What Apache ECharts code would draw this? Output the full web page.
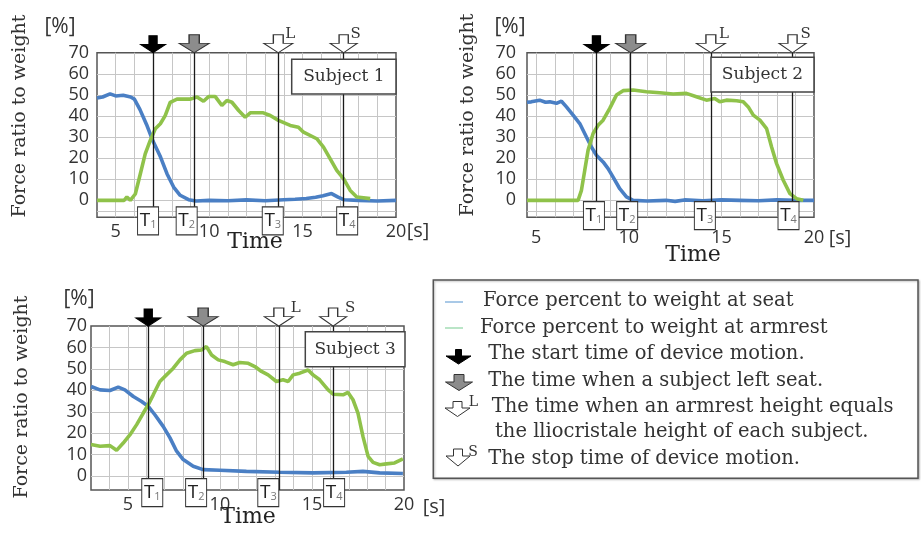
<!DOCTYPE html>
<html><head><meta charset="utf-8">
<script src="https://cdn.jsdelivr.net/npm/echarts@6/dist/echarts.min.js"></script>
<style>html,body{margin:0;padding:0;background:#fff}#c{width:921px;height:536px}</style>
</head><body><div id="c"></div>
<script>
// ---------- data (time [s], force ratio [%]) ----------
const s1Seat = [[4.0,48.5],[4.3,49],[4.7,50.5],[5.0,49.5],[5.4,49.8],[5.8,49],[6.0,48],[6.3,43],[6.65,36],[7.0,28],[7.4,20.5],[7.75,12.5],[8.1,6.3],[8.45,2.4],[8.9,0.3],[9.3,-0.3],[10,0],[11,-0.2],[12,0.2],[13,-0.2],[14,0.3],[14.6,0.5],[15.2,0.9],[15.7,1.5],[16.1,2.2],[16.55,3.2],[16.9,1.5],[17.2,0.3],[18,0],[19,-0.3],[20,0]];
const s1Arm = [[4.0,0],[5.0,0],[5.45,0],[5.6,1.6],[5.78,0],[6.05,3],[6.32,12.6],[6.58,22],[6.85,28.4],[7.12,33.9],[7.39,36.3],[7.65,40.2],[7.92,46.5],[8.28,48],[9.0,48],[9.35,49],[9.7,47],[9.97,49.2],[10.33,49.2],[10.68,45],[10.95,47.3],[11.22,46.5],[11.58,42.6],[11.93,39.4],[12.2,41.5],[12.9,41.5],[13.27,40.2],[13.71,37.9],[14.34,35.5],[14.78,34.7],[15.05,32.3],[15.76,29.2],[16.12,25.2],[16.48,19.7],[16.83,14.2],[17.19,10.3],[17.55,4.7],[17.9,1.6],[18.62,0.8]];
const s2Seat = [[4.5,46.5],[4.73,46.7],[5.18,47.5],[5.5,46.5],[5.73,46.7],[6.09,46],[6.36,47],[6.63,44.3],[6.99,40.4],[7.35,36.4],[7.71,30],[7.98,25.3],[8.25,21.4],[8.61,18.2],[8.88,15],[9.15,11],[9.51,5.5],[9.87,1.6],[10.23,0],[11,-0.3],[12,0],[12.5,-0.5],[13,0.2],[14,-0.2],[15,0.2],[16,0],[17,-0.2],[18,0.2],[19,0],[20,0]];
const s2Arm = [[4.5,0],[5,0],[6,0],[7.26,0],[7.44,4.75],[7.62,14.3],[7.8,23.8],[8.07,31.7],[8.34,35.6],[8.61,38],[8.97,43.6],[9.33,49.9],[9.69,52],[10.23,52.3],[10.95,51.5],[11.67,51],[12.39,50.4],[13.11,50.7],[13.65,49.1],[14.19,47.5],[14.64,48.3],[14.91,46.7],[15.27,47.5],[15.82,47.2],[16.18,46.7],[16.45,44.3],[16.72,40.4],[17.08,38],[17.44,34],[17.71,25.3],[17.98,17.4],[18.34,9.5],[18.7,3.2],[19.06,0.8],[19.42,0]];
const s3Seat = [[3.0,41.8],[3.49,40.2],[4.03,39.9],[4.48,41.5],[4.84,40.2],[5.3,37.1],[5.75,34.8],[6.11,32.5],[6.47,28.6],[6.92,23.2],[7.29,17.8],[7.65,11.6],[8.01,7.7],[8.55,4.6],[9.09,3],[10,2.7],[11.44,2.2],[13.25,1.8],[15.06,1.5],[16.87,1.8],[17.77,2.2],[18.68,1.5],[19.94,1.2]];
const s3Arm = [[3.0,14.7],[3.49,13.9],[4.03,14.2],[4.39,12],[4.75,15.4],[5.12,19.3],[5.48,24],[5.84,29.4],[6.11,33.3],[6.38,37.9],[6.74,44.1],[7.1,47.2],[7.47,50.3],[7.83,54.2],[8.19,57.3],[8.64,58.5],[9.0,58.8],[9.27,60.4],[9.55,56.5],[9.91,54.2],[10.27,53.4],[10.72,51.9],[11.08,53],[11.54,52.6],[11.9,51.1],[12.26,48.8],[12.62,47.2],[13.07,44.1],[13.43,44.9],[13.71,44.1],[13.98,47.2],[14.34,48],[14.79,49.5],[15.06,47.2],[15.42,44.9],[15.88,40.2],[16.15,38.2],[16.69,37.9],[16.96,39],[17.23,35.6],[17.5,29.4],[17.77,18.5],[18.05,9.2],[18.32,6.4],[18.68,5.3],[19.04,5.7],[19.49,6.1],[19.94,8]];
// event times T1..T4 (start, left seat, iliocristale height, stop)
const s1Events = [7.0, 9.2, 13.7, 17.2];
const s2Events = [8.25, 10.1, 14.43, 18.84];
const s3Events = [6.11, 9.09, 13.2, 16.15];
const subjectNames = ['Subject 1', 'Subject 2', 'Subject 3'];
const eventLetters = ['', '', 'L', 'S'];
const legendItems = ['Force percent to weight at seat', 'Force percent to weight at armrest', 'The start time of device motion.', 'The time when a subject left seat.', 'The time when an armrest height equals', 'the lliocristale height of each subject.', 'The stop time of device motion.'];

// ---------- layout / style ----------
const SERIF = 'DejaVu Serif';
const SANS = 'Open Sans';
const BLUE = '#4a7fc4', GREEN = '#8fc24a';
const subjects = [
  {seat:s1Seat, arm:s1Arm, events:s1Events, xMin:4, xMax:20, interval:1, yMin:-8,
   grid:{left:97, top:52.7, width:299, height:164.5}, xLabelMargin:6, yLabelMargin:8,
   boxDx:[-5,-7.5,-5.5,3.5], boxDy:3.6, letterOff:[12,-10], extraLine:true,
   title:[20,116], time:[255,242], pct:[60,27], sec:[418,231], box:[291.7,59.3,104.3,34.7]},
  {seat:s2Seat, arm:s2Arm, events:s2Events, xMin:4.5, xMax:20, interval:null, yMin:-8,
   grid:{left:527, top:52.7, width:287, height:164.5}, xLabelMargin:12, yLabelMargin:11,
   boxDx:[-2.5,-3.5,-6,-4], boxDy:-1.5, letterOff:[13,-10], extraLine:true,
   title:[468,115], time:[693,255], pct:[510,27], sec:[840,238], box:[711,57.3,103,34.7]},
  {seat:s3Seat, arm:s3Arm, events:s3Events, xMin:3, xMax:20, interval:1, yMin:-6.5,
   grid:{left:91, top:326, width:313, height:164}, xLabelMargin:6, yLabelMargin:4,
   boxDx:[4,-7,-10.5,1], boxDy:2.7, letterOff:[17,-9], extraLine:false,
   title:[22,397], time:[248,517], pct:[79,299], sec:[434,507], box:[305.3,331.7,99.7,35]}
];
const arrowBlack = 'path://M3.4,0 L6.6,0 L6.6,5.2 L10,5.2 L5,10 L0,5.2 L3.4,5.2 Z';
const arrowBlock = 'path://M3.3,0 L6.7,0 L6.7,4.8 L10,4.8 L5,10 L0,4.8 L3.3,4.8 Z';
const arrowStyles = [
  {symbol:arrowBlack, size:[25,17], color:'#000', border:'#000'},
  {symbol:arrowBlock, size:[30,18], color:'#8c8c8c', border:'#333'},
  {symbol:arrowBlock, size:[29,18], color:'#fff', border:'#333'},
  {symbol:arrowBlock, size:[27,18], color:'#fff', border:'#333'}
];

const grids = [], xAxes = [], yAxes = [], series = [], graphics = [];
subjects.forEach((s, i) => {
  grids.push(Object.assign({show:true, borderColor:'#555', borderWidth:1.5, backgroundColor:'#fff', containLabel:false}, s.grid));
  const xa = {type:'value', gridIndex:i, min:s.xMin, max:s.xMax,
    axisLine:{show:false}, axisTick:{show:false},
    splitLine:{show:true, showMinLine:false, showMaxLine:false, lineStyle:{color:'#c6c6c6', width:1}},
    axisLabel:{margin:s.xLabelMargin, fontFamily:SANS, fontSize:18, color:'#333', showMinLabel:true, showMaxLabel:true,
      formatter:v => (v >= 5 && Math.abs(v % 5) < 1e-6) ? String(Math.round(v)) : ''}};
  if (s.interval) xa.interval = s.interval; else xa.splitNumber = 15;
  xAxes.push(xa);
  yAxes.push({type:'value', gridIndex:i, min:s.yMin, max:70, splitNumber:8,
    axisLine:{show:false}, axisTick:{show:false},
    splitLine:{show:true, showMinLine:false, showMaxLine:false, lineStyle:{color:'#c6c6c6', width:1}},
    axisLabel:{margin:s.yLabelMargin, fontFamily:SANS, fontSize:18, color:'#333',
      formatter:v => (v >= 0 && Math.abs(v % 10) < 1e-6) ? String(Math.round(v)) : ''}});
  // extra grid line below zero
  if (s.extraLine) series.push({type:'line', xAxisIndex:i, yAxisIndex:i, data:[], z:1, silent:true,
    markLine:{silent:true, symbol:['none','none'], label:{show:false}, animation:false,
      lineStyle:{color:'#c6c6c6', width:1, type:'solid'}, data:[{yAxis:-5}]}});
  series.push({type:'line', name:'seat', xAxisIndex:i, yAxisIndex:i, data:s.seat, showSymbol:false, silent:true,
    lineStyle:{color:BLUE, width:3.6}, itemStyle:{color:BLUE}, z:3, animation:false});
  series.push({type:'line', name:'armrest', xAxisIndex:i, yAxisIndex:i, data:s.arm, showSymbol:false, silent:true,
    lineStyle:{color:GREEN, width:3.6}, itemStyle:{color:GREEN}, z:4, animation:false});
  // event lines
  series.push({type:'line', xAxisIndex:i, yAxisIndex:i, data:[], z:5, silent:true,
    markLine:{silent:true, symbol:['none','none'], label:{show:false}, animation:false,
      lineStyle:{color:'#1a1a1a', width:1.3, type:'solid'},
      data:s.events.map(t => [{coord:[t, 70]}, {coord:[t, s.yMin]}])}});
  // arrows and T boxes
  const pts = [];
  s.events.forEach((t, k) => {
    const a = arrowStyles[k];
    pts.push({coord:[t, 70], symbol:a.symbol, symbolSize:a.size, symbolOffset:[0, '-50%'], symbolKeepAspect:false,
      itemStyle:{color:a.color, borderColor:a.border, borderWidth:1.1},
      label:{show: !!eventLetters[k], formatter:eventLetters[k], position:'inside', offset:s.letterOff,
        fontFamily:SERIF, fontSize:15, color:'#333'}});
    pts.push({coord:[t, s.yMin], symbol:'rect', symbolSize:[21,28], symbolOffset:[s.boxDx[k], s.boxDy],
      itemStyle:{color:'#fff', borderColor:'#333', borderWidth:1.1},
      label:{show:true, position:'inside', formatter:'{t|T}{n|' + (k + 1) + '}',
        rich:{t:{fontFamily:SANS, fontSize:19, color:'#222', verticalAlign:'bottom'},
              n:{fontFamily:SANS, fontSize:11, color:'#777', verticalAlign:'bottom'}}}});
  });
  series.push({type:'line', xAxisIndex:i, yAxisIndex:i, data:[], z:6, silent:true,
    markPoint:{silent:true, animation:false, label:{show:false}, data:pts}});

  // texts
  graphics.push({type:'text', x:s.title[0], y:s.title[1], rotation:Math.PI/2, z:50,
    style:{text:'Force ratio to weight', font:'19px "' + SERIF + '"', fill:'#333', align:'center', verticalAlign:'middle'}});
  graphics.push({type:'text', x:s.time[0], y:s.time[1], z:50,
    style:{text:'Time', font:'22px "' + SERIF + '"', fill:'#222', align:'center', verticalAlign:'middle'}});
  graphics.push({type:'text', x:s.pct[0], y:s.pct[1], z:50,
    style:{text:'[%]', font:'21px "' + SANS + '"', fill:'#333', align:'center', verticalAlign:'middle'}});
  graphics.push({type:'text', x:s.sec[0], y:s.sec[1], z:50,
    style:{text:'[s]', font:'20px "' + SANS + '"', fill:'#333', align:'center', verticalAlign:'middle'}});
  graphics.push({type:'rect', z:60, shape:{x:s.box[0], y:s.box[1], width:s.box[2], height:s.box[3]},
    style:{fill:'#fff', stroke:'#444', lineWidth:1.5}});
  graphics.push({type:'text', z:61, x:s.box[0] + s.box[2] / 2, y:s.box[1] + s.box[3] / 2,
    style:{text:subjectNames[i], font:'17px "' + SERIF + '"', fill:'#333', align:'center', verticalAlign:'middle'}});
});

// ---------- legend box ----------
function arrowPts(cx, top, w, h, sw, hs) {
  return [[cx - sw/2, top], [cx + sw/2, top], [cx + sw/2, top + hs], [cx + w/2, top + hs], [cx, top + h], [cx - w/2, top + hs], [cx - sw/2, top + hs]];
}
graphics.push({type:'rect', z:40, shape:{x:433.3, y:280, width:484.7, height:198.3},
  style:{fill:'#fff', stroke:'#555', lineWidth:1.5, shadowBlur:2, shadowColor:'rgba(0,0,0,0.25)', shadowOffsetX:1, shadowOffsetY:1}});
graphics.push({type:'line', z:41, shape:{x1:445, y1:302, x2:463, y2:302}, style:{stroke:'#8db7df', lineWidth:1.5}});
graphics.push({type:'line', z:41, shape:{x1:445, y1:328, x2:463, y2:328}, style:{stroke:'#a3dcb5', lineWidth:1.5}});
graphics.push({type:'polygon', z:41, shape:{points:arrowPts(458.5, 349.5, 25, 14.5, 6, 6.5)}, style:{fill:'#000', stroke:'#000', lineWidth:1}});
graphics.push({type:'polygon', z:41, shape:{points:arrowPts(459, 374.5, 27, 16, 10, 7.5)}, style:{fill:'#8c8c8c', stroke:'#333', lineWidth:1}});
graphics.push({type:'polygon', z:41, shape:{points:arrowPts(457.5, 401.5, 25, 15, 9, 6.5)}, style:{fill:'#fff', stroke:'#333', lineWidth:1}});
graphics.push({type:'text', z:41, x:473.5, y:402, style:{text:'L', font:'14px "' + SERIF + '"', fill:'#333', align:'center', verticalAlign:'middle'}});
graphics.push({type:'polygon', z:41, shape:{points:arrowPts(458, 449, 24, 17, 9, 7)}, style:{fill:'#fff', stroke:'#333', lineWidth:1}});
graphics.push({type:'text', z:41, x:473, y:452, style:{text:'S', font:'14px "' + SERIF + '"', fill:'#333', align:'center', verticalAlign:'middle'}});
const legendX = [483, 480, 488.3, 488.3, 491.7, 495, 488.3];
const legendY = [301.3, 328, 354, 380.7, 406.7, 432.3, 459];
legendItems.forEach((txt, k) => {
  graphics.push({type:'text', z:42, x:legendX[k], y:legendY[k],
    style:{text:txt, font:'19.5px "' + SERIF + '"', fill:'#333', align:'left', verticalAlign:'middle'}});
});

const chart = echarts.init(document.getElementById('c'), null, {renderer:'canvas'});
chart.setOption({
  animation:false,
  backgroundColor:'#fff',
  grid:grids, xAxis:xAxes, yAxis:yAxes, series:series, graphic:{elements:graphics}
});
</script></body></html>
